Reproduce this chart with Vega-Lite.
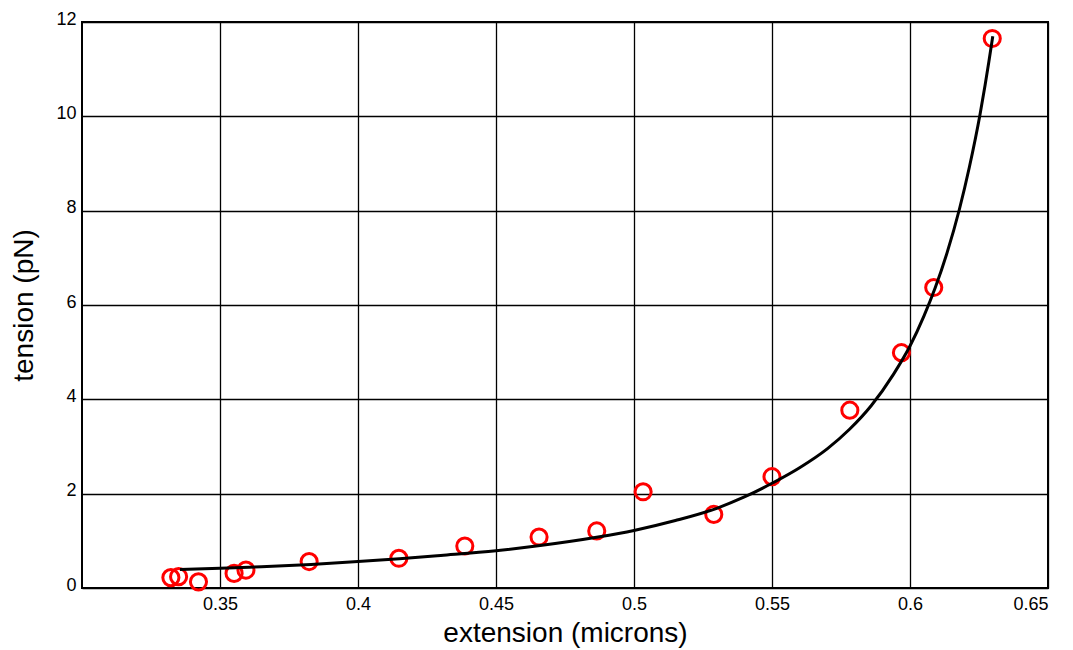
{
  "$schema": "https://vega.github.io/schema/vega-lite/v6.json",
  "autosize": {"type": "none"},
  "padding": {"left": 82, "top": 22, "right": 25, "bottom": 62},
  "width": 966,
  "height": 566,
  "background": "white",
  "datasets": {
    "points": [
      {"extension": 0.3322, "tension": 0.22},
      {"extension": 0.3350, "tension": 0.24},
      {"extension": 0.3422, "tension": 0.13},
      {"extension": 0.3551, "tension": 0.31},
      {"extension": 0.3594, "tension": 0.38},
      {"extension": 0.3823, "tension": 0.56},
      {"extension": 0.4148, "tension": 0.63},
      {"extension": 0.4387, "tension": 0.89},
      {"extension": 0.4656, "tension": 1.08},
      {"extension": 0.4865, "tension": 1.21},
      {"extension": 0.5033, "tension": 2.04},
      {"extension": 0.5289, "tension": 1.56},
      {"extension": 0.5500, "tension": 2.36},
      {"extension": 0.5782, "tension": 3.77},
      {"extension": 0.5969, "tension": 4.99},
      {"extension": 0.6086, "tension": 6.37},
      {"extension": 0.6298, "tension": 11.65}
    ],
    "fit": [
      {"extension": 0.3355, "tension": 0.39},
      {"extension": 0.350, "tension": 0.42},
      {"extension": 0.365, "tension": 0.45},
      {"extension": 0.383, "tension": 0.50},
      {"extension": 0.400, "tension": 0.56},
      {"extension": 0.415, "tension": 0.62},
      {"extension": 0.430, "tension": 0.69},
      {"extension": 0.450, "tension": 0.79},
      {"extension": 0.466, "tension": 0.90},
      {"extension": 0.487, "tension": 1.08},
      {"extension": 0.500, "tension": 1.22},
      {"extension": 0.515, "tension": 1.43},
      {"extension": 0.530, "tension": 1.69},
      {"extension": 0.540, "tension": 1.93},
      {"extension": 0.550, "tension": 2.22},
      {"extension": 0.560, "tension": 2.55},
      {"extension": 0.570, "tension": 2.95},
      {"extension": 0.578, "tension": 3.36},
      {"extension": 0.586, "tension": 3.87},
      {"extension": 0.594, "tension": 4.53},
      {"extension": 0.600, "tension": 5.13},
      {"extension": 0.605, "tension": 5.76},
      {"extension": 0.6091, "tension": 6.36},
      {"extension": 0.6135, "tension": 7.12},
      {"extension": 0.6179, "tension": 8.03},
      {"extension": 0.6215, "tension": 8.92},
      {"extension": 0.6254, "tension": 10.05},
      {"extension": 0.6272, "tension": 10.66},
      {"extension": 0.6286, "tension": 11.17},
      {"extension": 0.6300, "tension": 11.70}
    ]
  },
  "config": {
    "font": "Liberation Sans",
    "view": {"stroke": "black", "strokeWidth": 2},
    "axis": {
      "domain": false,
      "ticks": false,
      "grid": true,
      "gridColor": "black",
      "gridWidth": 1.3,
      "gridOpacity": 1,
      "labelFont": "Liberation Sans",
      "labelFontSize": 18,
      "labelColor": "black",
      "titleFont": "Liberation Sans",
      "titleFontSize": 28,
      "titleFontWeight": "normal",
      "titleColor": "black"
    }
  },
  "layer": [
    {
      "data": {"name": "points"},
      "mark": {"type": "point", "shape": "circle", "filled": false, "color": "#ff0000", "size": 260, "strokeWidth": 3, "opacity": 1},
      "encoding": {
        "x": {
          "field": "extension", "type": "quantitative",
          "scale": {"domain": [0.3, 0.65], "nice": false, "zero": false},
          "axis": {"title": "extension (microns)", "values": [0.35, 0.4, 0.45, 0.5, 0.55, 0.6, 0.65], "format": ".2~f", "labelPadding": 7, "titlePadding": 6}
        },
        "y": {
          "field": "tension", "type": "quantitative",
          "scale": {"domain": [0, 12], "nice": false},
          "axis": {"title": "tension (pN)", "values": [0, 2, 4, 6, 8, 10, 12], "labelPadding": 6, "labelOffset": -3, "titlePadding": 17}
        }
      }
    },
    {
      "data": {"name": "fit"},
      "mark": {"type": "line", "color": "black", "strokeWidth": 3, "interpolate": "monotone"},
      "encoding": {
        "x": {"field": "extension", "type": "quantitative"},
        "y": {"field": "tension", "type": "quantitative"}
      }
    }
  ]
}
